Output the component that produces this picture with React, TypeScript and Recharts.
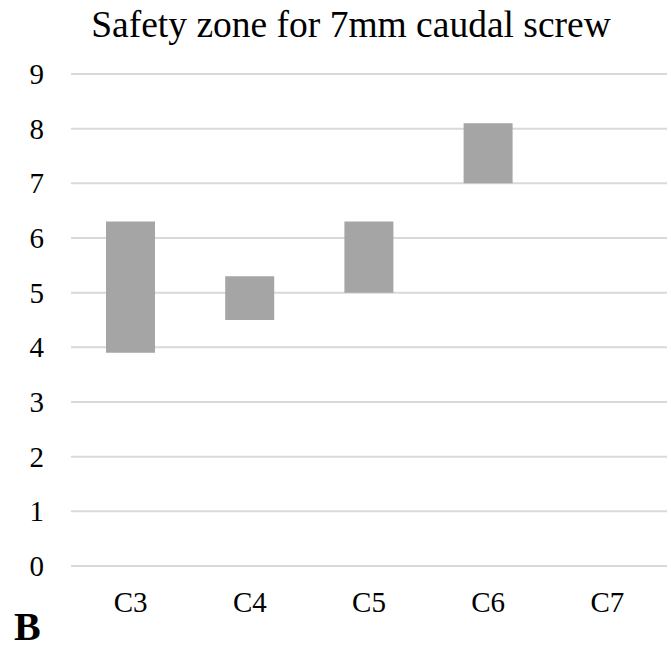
import React from "react";
import { BarChart, Bar, XAxis, YAxis, CartesianGrid, Customized } from "recharts";

const categories = ["C3", "C4", "C5", "C6", "C7"];
const lowValues: (number | null)[] = [3.9, 4.5, 5.0, 7.0, null];
const highValues: (number | null)[] = [6.3, 5.3, 6.3, 8.1, null];
const yTicks = [0, 1, 2, 3, 4, 5, 6, 7, 8, 9];
const title = "Safety zone for 7mm caudal screw";
const panelLabel = "B";

const data = categories.map((c, i) => ({
  name: c,
  range: lowValues[i] != null && highValues[i] != null ? [lowValues[i], highValues[i]] : null,
}));

const FONT = "'Liberation Serif', 'Times New Roman', serif";

const YTick = (props: any) => {
  const { y, payload } = props;
  return (
    <text x={44} y={y + 10} textAnchor="end" fontFamily={FONT} fontSize={29} fill="#000">
      {payload.value}
    </text>
  );
};

const XTick = (props: any) => {
  const { x, payload } = props;
  return (
    <text x={x} y={612} textAnchor="middle" fontFamily={FONT} fontSize={29} fill="#000">
      {payload.value}
    </text>
  );
};

const Extras = () => (
  <g>
    <text x={351} y={37} textAnchor="middle" fontFamily={FONT} fontSize={37.5} fill="#000">
      {title}
    </text>
    <text x={14} y={640} textAnchor="start" fontFamily={FONT} fontSize={40} fontWeight="bold" fill="#000">
      {panelLabel}
    </text>
  </g>
);

export default function App() {
  return (
    <div style={{ position: "absolute", left: 0, top: 0, width: 671, height: 650, background: "#fff" }}>
      <BarChart
        width={671}
        height={650}
        data={data}
        margin={{ top: 74, right: 4, bottom: 54, left: 0 }}
      >
        <CartesianGrid vertical={false} stroke="#d9d9d9" strokeWidth={2} />
        <XAxis
          dataKey="name"
          height={30}
          axisLine={false}
          tickLine={false}
          tick={<XTick />}
          interval={0}
        />
        <YAxis
          width={71}
          domain={[0, 9]}
          ticks={yTicks}
          axisLine={false}
          tickLine={false}
          tick={<YTick />}
          interval={0}
        />
        <Bar dataKey="range" fill="#a5a5a5" barSize={49} isAnimationActive={false} />
        <Customized component={Extras} />
      </BarChart>
    </div>
  );
}
